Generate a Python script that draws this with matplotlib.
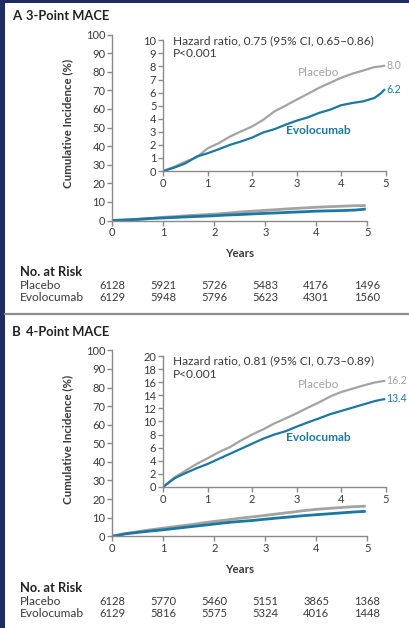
import numpy as np
import matplotlib
matplotlib.use("Agg")
import matplotlib.pyplot as plt
from matplotlib.transforms import blended_transform_factory

plt.rcParams['font.family'] = ['Lato', 'DejaVu Sans']

W, H = 409, 628
GRAY = '#a3a3a3'
TEAL = '#1b78a0'
AXC = '#8a8a8a'
TXT = '#3a3a3a'
DARK = '#222222'
NAVY = '#1f2b63'

# curve readings (years, cumulative incidence %)
years = [0, 0.25, 0.5, 0.75, 1, 1.25, 1.5, 1.75, 2, 2.25, 2.5, 2.75,
         3, 3.25, 3.5, 3.75, 4, 4.25, 4.5, 4.75, 4.88, 4.97]
a_placebo = [0, 0.33, 0.72, 1.05, 1.74, 2.13, 2.64, 3.03, 3.41, 3.92, 4.56, 5.0,
             5.46, 5.9, 6.36, 6.74, 7.13, 7.44, 7.69, 7.95, 8.0, 8.05]
a_evolo = [0, 0.26, 0.59, 1.1, 1.36, 1.67, 2.0, 2.26, 2.56, 2.95, 3.2, 3.54,
           3.85, 4.1, 4.44, 4.69, 5.03, 5.2, 5.33, 5.59, 5.9, 6.2]
b_placebo = [0, 1.44, 2.47, 3.5, 4.38, 5.3, 6.08, 7.1, 8.0, 8.8, 9.7, 10.46,
             11.24, 12.1, 12.9, 13.8, 14.5, 15.0, 15.5, 15.95, 16.1, 16.2]
b_evolo = [0, 1.29, 2.1, 2.84, 3.5, 4.28, 5.05, 5.82, 6.6, 7.37, 8.0, 8.5,
           9.2, 9.85, 10.46, 11.1, 11.6, 12.1, 12.6, 13.1, 13.3, 13.4]

risk_years = [0, 1, 2, 3, 4, 5]
a_risk_placebo = [6128, 5921, 5726, 5483, 4176, 1496]
a_risk_evolo = [6129, 5948, 5796, 5623, 4301, 1560]
b_risk_placebo = [6128, 5770, 5460, 5151, 3865, 1368]
b_risk_evolo = [6129, 5816, 5575, 5324, 4016, 1448]

panels = [
    dict(letter='A', title='3-Point MACE', pl=a_placebo, ev=a_evolo,
         rp=a_risk_placebo, re=a_risk_evolo, top=0, ymax=10, ystep=1,
         hr='Hazard ratio, 0.75 (95% CI, 0.65\u20130.86)', pl_end='8.0', ev_end='6.2',
         pl_lab=7.5, ev_lab=3.1, hr_y=10.0, p_y=9.0, pl_end_y=8.05, ev_end_y=6.2),
    dict(letter='B', title='4-Point MACE', pl=b_placebo, ev=b_evolo,
         rp=b_risk_placebo, re=b_risk_evolo, top=315.8, ymax=20, ystep=2,
         hr='Hazard ratio, 0.81 (95% CI, 0.73\u20130.89)', pl_end='16.2', ev_end='13.4',
         pl_lab=15.6, ev_lab=7.5, hr_y=19.3, p_y=17.2, pl_end_y=16.3, ev_end_y=13.5),
]

fig = plt.figure(figsize=(W / 100, H / 100), dpi=100)


def fx(x):
    return x / W


def fy(y):
    return 1 - y / H


def style(ax, fs=8.0):
    for s in ['top', 'right']:
        ax.spines[s].set_visible(False)
    for s in ['left', 'bottom']:
        ax.spines[s].set_color(AXC)
        ax.spines[s].set_linewidth(1.0)
    ax.tick_params(direction='out', length=3.5, width=1.0, color=AXC,
                   labelsize=fs, labelcolor=TXT, pad=1.5)
    ax.patch.set_alpha(0)


for p in panels:
    t = p['top']
    # main axes
    ax = fig.add_axes([fx(112.3), fy(t + 220.5), 255 / W, 186 / H])
    style(ax)
    ax.plot(years, p['pl'], color=GRAY, lw=2, solid_capstyle='butt')
    ax.plot(years, p['ev'], color=TEAL, lw=2, solid_capstyle='butt')
    ax.set_xlim(0, 5)
    ax.set_ylim(0, 100)
    ax.set_xticks(risk_years)
    ax.set_yticks(range(0, 101, 10))
    ax.set_xlabel('Years', fontsize=8.3, fontweight='bold', color=TXT, labelpad=7)
    ax.set_ylabel('Cumulative Incidence (%)', fontsize=8.3, fontweight='bold', color=TXT, labelpad=6)
    ax.yaxis.set_label_coords(-0.155, 0.52)

    # inset
    ins = fig.add_axes([fx(163.3), fy(t + 171), 222.2 / W, 130.7 / H])
    style(ins)
    ins.plot(years, p['pl'], color=GRAY, lw=1.6)
    ins.plot(years, p['ev'], color=TEAL, lw=1.6)
    ins.set_xlim(0, 5)
    ins.set_ylim(0, p['ymax'])
    ins.set_xticks(risk_years)
    ins.set_yticks(np.arange(0, p['ymax'] + 0.1, p['ystep']))
    ins.text(0.22, p['hr_y'], p['hr'], fontsize=8.6, color=TXT, va='center')
    ins.text(0.22, p['p_y'], 'P<0.001', fontsize=8.6, color=TXT, va='center')
    ins.text(3.49, p['pl_lab'], 'Placebo', fontsize=8.6, color=GRAY, ha='center', va='center')
    ins.text(3.49, p['ev_lab'], 'Evolocumab', fontsize=8.6, color=TEAL, ha='center', va='center',
             fontweight='bold')
    ins.text(5.02, p['pl_end_y'], p['pl_end'], fontsize=7.6, color=GRAY, va='center', clip_on=False)
    ins.text(5.02, p['ev_end_y'], p['ev_end'], fontsize=7.6, color=TEAL, va='center', clip_on=False)

    # title
    fig.text(fx(12), fy(t + 16), p['letter'], fontsize=9.5, fontweight='bold', color=DARK, va='center')
    fig.text(fx(26.5), fy(t + 16), p['title'], fontsize=9.3, fontweight='bold', color=DARK, va='center')

    # number at risk
    tr = blended_transform_factory(ax.transData, fig.transFigure)
    fig.text(fx(20), fy(t + 272.3), 'No. at Risk', fontsize=9.3, fontweight='bold', color=DARK, va='center')
    fig.text(fx(20), fy(t + 285.3), 'Placebo', fontsize=8.6, color=TXT, va='center')
    fig.text(fx(20), fy(t + 297.3), 'Evolocumab', fontsize=8.6, color=TXT, va='center')
    for xv, n1, n2 in zip(risk_years, p['rp'], p['re']):
        ax.text(xv, fy(t + 285.3), str(n1), transform=tr, fontsize=8.1, color=TXT,
                ha='center', va='center', clip_on=False)
        ax.text(xv, fy(t + 297.3), str(n2), transform=tr, fontsize=8.1, color=TXT,
                ha='center', va='center', clip_on=False)

# frame decoration
fig.add_artist(plt.Rectangle((0, 0), fx(5), 1, transform=fig.transFigure, color=NAVY, lw=0))
fig.add_artist(plt.Rectangle((0, fy(3)), 1, 3 / H, transform=fig.transFigure, color=NAVY, lw=0))
fig.add_artist(plt.Line2D([fx(5), 1], [fy(313.8), fy(313.8)], transform=fig.transFigure,
                          color='#8c8c8c', lw=1.6))

fig.savefig('out.png', dpi=100, facecolor='white')
